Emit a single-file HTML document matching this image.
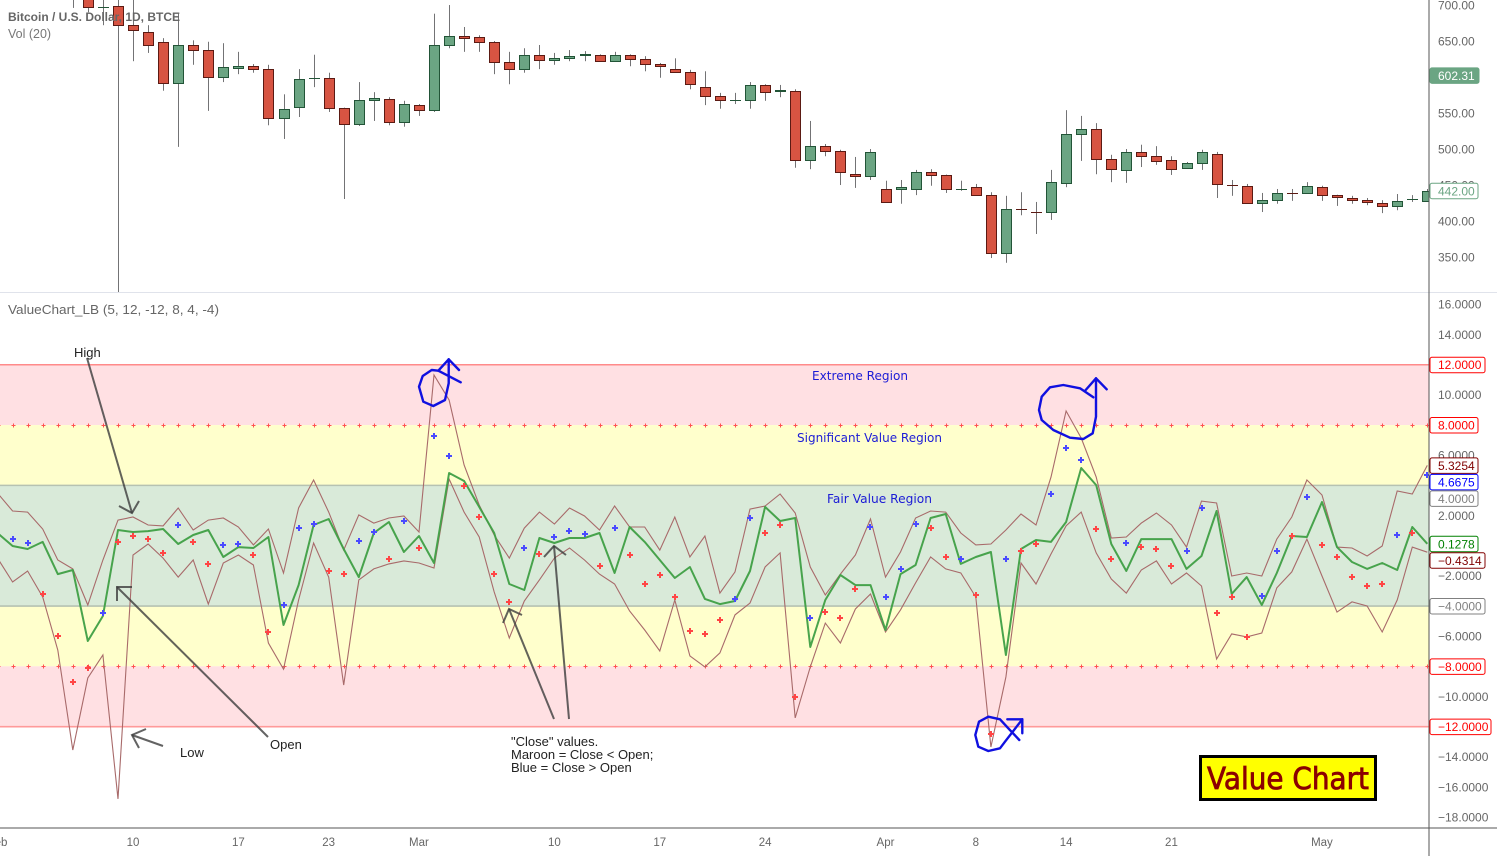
<!DOCTYPE html>
<html lang="en">
<head>
<meta charset="utf-8">
<title>Bitcoin Value Chart</title>
<style>
html,body{margin:0;padding:0;background:#fff;width:1497px;height:856px;overflow:hidden}
svg{display:block;font-family:"Liberation Sans",sans-serif}
.note{font-size:13px;fill:#222}
.region{font-family:"DejaVu Sans",sans-serif;font-size:12px;fill:#1c1cd6}
.hand{fill:none;stroke:#1010e0;stroke-width:2.4;stroke-linejoin:round;stroke-linecap:round}
.ann{fill:none;stroke:#3c3c3c;stroke-opacity:.8;stroke-width:2}
</style>
</head>
<body>
<svg id="chart" xmlns="http://www.w3.org/2000/svg" width="1497" height="856" viewBox="0 0 1497 856">
  <defs>
    <clipPath id="priceClip"><rect x="0" y="0" width="1429" height="292"/></clipPath>
    <clipPath id="indClip"><rect x="0" y="293" width="1429" height="535"/></clipPath>
  </defs>
  <rect width="1497" height="856" fill="#fff"/>
  <g id="regions" clip-path="url(#indClip)"></g>
  <g id="candles" clip-path="url(#priceClip)"></g>
  <g id="indicator" clip-path="url(#indClip)"></g>

  <line x1="0" y1="292.5" x2="1497" y2="292.5" stroke="#e0e3eb" stroke-width="1"/>
  <line x1="0" y1="828" x2="1497" y2="828" stroke="#555" stroke-width="1"/>
  <line x1="1429" y1="0" x2="1429" y2="856" stroke="#555" stroke-width="1"/>

  <g id="axes"></g>

  <text x="8" y="21" font-size="12" font-weight="bold" fill="#666" textLength="172" lengthAdjust="spacingAndGlyphs">Bitcoin / U.S. Dollar, 1D, BTCE</text>
  <text x="8" y="38" font-size="12.5" fill="#777">Vol (20)</text>
  <text x="8" y="314" font-size="12.5" fill="#666" textLength="211" lengthAdjust="spacingAndGlyphs">ValueChart_LB (5, 12, -12, 8, 4, -4)</text>

  <text class="region" x="812" y="380" textLength="96" lengthAdjust="spacingAndGlyphs">Extreme Region</text>
  <text class="region" x="797" y="442" textLength="145" lengthAdjust="spacingAndGlyphs">Significant Value Region</text>
  <text class="region" x="827" y="503" textLength="105" lengthAdjust="spacingAndGlyphs">Fair Value Region</text>

  <g>
    <text class="note" x="74" y="357">High</text>
    <polyline class="ann" points="87,358 132,513"/>
    <polyline class="ann" points="119,506 132,513 139,501"/>
  </g>
  <g>
    <text class="note" x="270" y="749">Open</text>
    <polyline class="ann" points="268,737 117,587"/>
    <polyline class="ann" points="117,601 117,587 132,587"/>
  </g>
  <g>
    <text class="note" x="180" y="757">Low</text>
    <polyline class="ann" points="163,746 132,735"/>
    <polyline class="ann" points="146,729 132,735 139,748"/>
  </g>
  <g>
    <polyline class="ann" points="554,719 509,609"/>
    <polyline class="ann" points="503,623 509,609 522,615"/>
    <polyline class="ann" points="569,719 554,546"/>
    <polyline class="ann" points="544,557 554,546 566,555"/>
    <text class="note" x="511" y="746">"Close" values.</text>
    <text class="note" x="511" y="759">Maroon = Close &lt; Open;</text>
    <text class="note" x="511" y="772">Blue = Close &gt; Open</text>
  </g>

  <g>
    <polyline class="hand" points="460.7,382.3 438.3,370.7 448.7,359.3 459,370"/>
    <polyline class="hand" points="448.7,359.3 448.7,383.3 445,400 433.3,406 423.3,401.7 419,386.7 422.7,376 431.7,370 438.3,370.7"/>
    <polyline class="hand" points="1093.3,397.3 1080,388.3 1063.3,385 1050,387.3 1041.7,396.7 1039,410 1041.7,420 1053.3,430 1070,437.7 1083.3,439 1092.7,433.3 1096,416.7 1096,378.3"/>
    <polyline class="hand" points="1085.7,390 1096,378.3 1106.7,389.3"/>
    <polyline class="hand" points="1022.3,719.3 1005,741.7 1000,748.3 988.3,751 978.3,746.7 975.3,735 979,721.7 988.3,716.7 1000,719.3 1008.3,728.3 1019.3,740"/>
    <polyline class="hand" points="1007.3,719.3 1022.3,719.3 1022.3,733.3"/>
  </g>

  <g>
    <rect x="1200.5" y="756.5" width="175" height="43" fill="#ffff00" stroke="#000" stroke-width="3"/>
    <text x="1207" y="789" font-family="'DejaVu Sans',sans-serif" font-size="30" fill="#8b0000" stroke="#8b0000" stroke-width=".8" textLength="162" lengthAdjust="spacingAndGlyphs">Value Chart</text>
  </g>
</svg>
<script>
// Candles: bar 0 is the first candle drawn in the price pane.
const opens=[740,730,697,699,672,662.5,649,592,644.5,637.5,600,612.5,615,611,543,558,599,599,557,535,568,569.5,537.5,561,554,644.5,657,656,649,621,611,631,624,626,631,631,622,631,625,618,611,607,586,574,568,568,589,581,581,485,504,497,465,462.5,444.5,444.5,444.5,468,464,444.5,447,436,355.6,417.3,412.7,412.5,453,521,528,486,471,496,490,485,474,481,493,450.3,449,425,429,439.3,439,447,436,432,429,425,421,430.4,428];
const highs=[760,740,730,730,730,672,654,688,651,649,647,635,618,617,576,611,631,606,557.5,593,579,572,567,562.5,688,700,669.5,658,650,635,640,644.5,633.5,637.5,636,631.5,635,631.5,629,619.5,626,610,608,578,578,593,590,589,583,539,507,499,489,500,456,457,471,472,464.5,456,451.5,440,435,440,426.5,471,554,546,536,492,500,506,504,490,482,499,496,457,451.5,439,444.5,444.5,454,449,436.5,435,432,429,437.5,436,444.5];
const lows=[696,690,672,301,622,633.5,581,503,617,553,593,604,606,533,514,544.5,586,551.5,430.6,532,539,533,531,546,551.5,640,635,635,604,590,606,611,617,622,622,621.5,621.5,615,608,599,606.5,583,561,556,562.5,556,567,572,474,472,490,450,446,457,426,424,436,449,439,442,435.5,348.6,342,408,382,401.5,447,483.5,465,454,453,475,478,464,473.5,471,432,435,424.5,412.5,424,428,438.5,428,421,424,422,411,415,426.5,427.5];
const closes=[735,697,697.5,672,665,644.5,592,644.5,637.5,600,614,615,611,543,556,597,599.3,557,535,568,571,537.5,562.5,554,644.5,657,654,649,621,611,631,624,626,629,631.3,622,631,625,618,615,607,590,574,568,568.3,589,579,581.5,485,504,497,468,462.5,496,426.5,447,468,464,444.5,445,436,355.6,417,417,412.3,454,521,528,486,472,496,490,483.5,472,481,496,451.5,450,425,429,439,439,449,436,433,429,426.5,421,428,430.8,442];

// ValueChart_LB series: index 0 sits five bars left of candle 0.
const vcHigh=[3.49,2.30,2.23,1.11,-0.95,-1.54,-3.93,-0.95,1.70,1.90,1.37,1.31,2.50,1.04,1.70,1.84,1.24,0.05,1.11,-1.81,2.50,4.36,2.23,-0.29,2.04,1.50,1.84,1.97,0.91,11.32,9.66,5.35,2.70,0.71,-0.82,1.17,2.23,1.44,2.50,1.97,1.04,2.63,1.24,1.24,-0.29,1.90,-0.75,0.64,-3.14,-1.74,2.43,2.63,3.43,2.17,-1.41,-3.27,-1.88,-0.62,1.77,-2.08,-0.42,1.84,2.30,2.23,0.84,0.05,0.11,1.04,2.10,1.37,4.55,8.93,7.14,4.55,0.51,0.58,1.50,2.17,1.37,-0.09,2.96,2.83,-2.01,-1.81,-2.01,0.44,1.90,4.36,3.36,-0.09,-0.15,-0.68,-0.02,3.63,3.43,5.3254];
const vcLow=[-0.82,-2.41,-1.68,-3.40,-6.92,-13.55,-8.77,-7.25,-16.79,-0.62,0.11,-0.82,-2.08,-0.95,-3.87,-1.15,-0.62,-1.28,-6.45,-8.18,-3.60,0.18,-2.08,-9.24,-2.27,-1.54,-1.21,-1.01,-1.15,-1.48,4.42,2.23,0.58,-3.07,-6.12,-3.67,-2.27,-0.82,-0.15,-0.95,-1.88,-2.54,-4.33,-5.59,-6.98,-3.60,-7.31,-8.04,-7.11,-4.59,-3.80,-1.41,-0.48,-11.42,-8.04,-5.13,-6.45,-4.20,-3.20,-5.72,-4.26,-2.47,-0.75,-1.54,-1.81,-3.40,-13.35,-8.71,-1.15,-2.54,-0.55,1.31,2.23,-0.48,-2.21,-3.14,-1.61,-1.01,-2.54,-1.81,-2.67,-7.51,-5.85,-6.05,-5.79,-2.80,-1.74,0.44,-2.01,-4.40,-3.73,-4.00,-5.72,-3.60,-0.09,-0.4314];
const vcOpen=[0.84,-0.02,-0.22,0.25,-1.88,-1.61,-6.32,-4.66,1.04,0.91,0.97,1.11,0.11,0.71,1.04,-0.75,-0.09,-0.15,0.58,-5.26,-2.61,1.37,1.77,-0.22,-2.08,0.84,1.57,-0.42,0.64,-1.15,4.82,4.29,2.57,0.84,-2.54,-2.94,0.51,0.18,0.51,0.51,0.84,-1.81,1.24,0.25,-0.95,-2.14,-1.41,-3.53,-3.87,-3.67,-1.68,2.57,1.64,1.84,-6.72,-3.60,-1.94,-2.61,-2.61,-5.59,-1.88,-1.28,1.84,2.10,-1.21,-0.75,-0.42,-7.25,-0.22,0.38,0.25,1.57,5.15,4.02,0.11,-1.68,0.44,0.44,0.44,-1.54,-0.68,2.30,-3.20,-2.08,-3.93,-1.81,0.64,0.58,2.90,-0.09,-1.08,-1.54,-1.15,-1.61,1.24,0.1278];
const vcClose=[null,0.44,0.18,-3.20,-5.99,-9.04,-8.11,-4.46,0.25,0.64,0.44,-0.48,1.37,0.25,-1.21,0.05,0.11,-0.62,-5.72,-3.93,1.17,1.44,-1.68,-1.88,0.31,0.91,-0.88,1.64,-0.15,7.27,5.95,3.96,1.90,-1.88,-3.73,-0.15,-0.55,0.58,0.97,0.78,-1.35,1.17,-0.62,-2.54,-1.94,-3.40,-5.66,-5.85,-4.93,-3.53,1.84,0.84,1.37,-10.03,-4.79,-4.40,-4.79,-2.87,1.24,-3.40,-1.54,1.44,1.17,-0.75,-0.88,-3.27,-12.48,-0.88,-0.35,0.11,3.43,6.48,5.68,1.11,-0.88,0.18,-0.09,-0.22,-1.35,-0.35,2.50,-4.46,-3.40,-6.05,-3.34,-0.35,0.64,3.23,0.05,-0.75,-2.08,-2.67,-2.54,0.71,0.84,4.6675];

// Axis data
const priceTicks=[700,650,600,550,500,450,400,350];
const valueTicks=[16,14,12,10,8,6,4,2,0,-2,-4,-6,-8,-10,-12,-14,-16,-18];
const timeLabels=['Feb','10','17','23','Mar','10','17','24','Apr','8','14','21','May'];
const timeBars=[-5,4,11,17,23,32,39,46,54,60,66,73,83];
const lastClosePrice=602.31;
const lastPrice=442.00;

// Axis functions
const xBar=i=>72.8+15.05*i;
const yPrice=p=>(707-p)/1.389;
const yValue=v=>545.7-15.08*v;
const xInd=k=>xBar(k-5);

const NS='http://www.w3.org/2000/svg';
function make(parent,tag,attrs,text){
  const el=document.createElementNS(NS,tag);
  for(const k in attrs)el.setAttribute(k,attrs[k]);
  if(text!==undefined)el.textContent=text;
  parent.appendChild(el);
  return el;
}
const fmt=v=>v.toFixed(4).replace('-','\u2212');

// Region bands and level lines
const regions=document.getElementById('regions');
const bands=[[12,8,'#ffe0e3'],[8,4,'#ffffcc'],[4,-4,'#d9ead9'],[-4,-8,'#ffffcc'],[-8,-12,'#ffe0e3']];
bands.forEach(b=>{
  const r=make(regions,'rect',{x:0,y:yValue(b[0]),width:1429,height:yValue(b[1])-yValue(b[0]),fill:b[2]});
  
  
});
const levelLines=[[12,'#ff8a8a'],[4,'#b6c2b2'],[-4,'#b6c2b2'],[-12,'#ff9a9a']];
levelLines.forEach(l=>{
  const ln=make(regions,'line',{x1:0,x2:1429,y1:yValue(l[0]),y2:yValue(l[0]),stroke:l[1],'stroke-width':1.6});
  
  
});

// Candles
const candles=document.getElementById('candles');
opens.forEach((o,i)=>{
  const c=closes[i],up=c>=o;
  const px=Math.round(xBar(i));
  const g=make(candles,'g',{});
  
  
  const yh=yPrice(highs[i]),yl=yPrice(lows[i]);
  make(g,'rect',{x:px,y:yh,width:1,height:yl-yh,fill:'#737375'});
  const t=Math.round(yPrice(Math.max(o,c))),b=Math.round(yPrice(Math.min(o,c)));
  const border=up?'#225437':'#5b1a13',fill=up?'#6ba583':'#d75442';
  if(b-t<1){
    make(g,'rect',{x:px-5,y:t,width:11,height:1,fill:border});
  }else{
    make(g,'rect',{x:px-4.5,y:t+.5,width:10,height:b-t,fill:fill,stroke:border,'stroke-width':1});
  }
});

// Indicator
const ind=document.getElementById('indicator');
[8,-8].forEach(level=>{
  vcHigh.forEach((_,k)=>{
    const x=Math.round(xInd(k)),y=Math.round(yValue(level));
    const d=make(ind,'path',{d:`M${x-1.5} ${y+.5}H${x+2.5}M${x+.5} ${y-1.5}V${y+2.5}`,stroke:'#ff5252','stroke-width':1,fill:'none'});
    
    
  });
});
function pts(arr){return arr.map((v,k)=>xInd(k).toFixed(1)+','+yValue(v).toFixed(1)).join(' ');}
const hiLine=make(ind,'polyline',{points:pts(vcHigh),fill:'none',stroke:'#a86a6a','stroke-width':1.1});


const loLine=make(ind,'polyline',{points:pts(vcLow),fill:'none',stroke:'#a86a6a','stroke-width':1.1});


const opLine=make(ind,'polyline',{points:pts(vcOpen),fill:'none',stroke:'#3f9f45','stroke-width':2,'stroke-opacity':.95,'stroke-linejoin':'round'});


vcClose.forEach((v,k)=>{
  if(v===null)return;
  const x=Math.round(xInd(k)),y=Math.round(yValue(v));
  const col=v>vcOpen[k]?'#4a4aff':'#ff4545';
  const m=make(ind,'path',{d:`M${x-3} ${y}H${x+3}M${x} ${y-3}V${y+3}`,stroke:col,'stroke-width':2,fill:'none'});
  
  
});

// Axis labels
const axes=document.getElementById('axes');
priceTicks.forEach(p=>{
  const t=make(axes,'text',{x:1438,y:yPrice(p)+4.3,'font-size':12,fill:'#666'},p.toFixed(2));
  
  
});
valueTicks.forEach(v=>{
  const t=make(axes,'text',{x:1438,y:yValue(v)+4.3,'font-size':12,fill:'#666'},fmt(v));
  
  
});
timeLabels.forEach((s,i)=>{
  const t=make(axes,'text',{x:xBar(timeBars[i]),y:846,'font-size':11.5,fill:'#666','text-anchor':'middle'},s);
  
  
});

// Axis tags
function tag(y,label,width,stroke,fill,color){
  const g=make(axes,'g',{});
  make(g,'rect',{x:1430,y:y-7.5,width:width,height:15.5,rx:2,fill:fill,stroke:stroke,'stroke-width':1});
  make(g,'text',{x:1438,y:y+4.5,'font-size':12,fill:color},label);
  return g;
}
const tagClose=tag(yPrice(lastClosePrice),lastClosePrice.toFixed(2),49,'#6ba583','#6ba583','#fff');


const tagPrice=tag(yPrice(lastPrice),lastPrice.toFixed(2),48,'#6ba583','#fff','#6ba583');



// Indicator tags stack downward when they would overlap.
const levelValues=[12,8,4,-4,-8,-12];
const levelStroke=['#ff0000','#ff0000','#808080','#808080','#ff0000','#ff0000'];
const levelWidths=[55,48,48,55,55,61];
const tagSpecs=levelValues.map((v,i)=>({v:v,w:levelWidths[i],c:levelStroke[i],name:'level-tag'}));
tagSpecs.push({v:vcHigh[vcHigh.length-1],w:48,c:'#800000',name:'high-value-tag'});
tagSpecs.push({v:vcClose[vcClose.length-1],w:48,c:'#0000ff',name:'close-value-tag'});
tagSpecs.push({v:vcOpen[vcOpen.length-1],w:48,c:'#008000',name:'open-value-tag'});
tagSpecs.push({v:vcLow[vcLow.length-1],w:55,c:'#800000',name:'low-value-tag'});
tagSpecs.sort((a,b)=>b.v-a.v);
let prevTagY=-100;
tagSpecs.forEach(s=>{
  const y=Math.max(yValue(s.v),prevTagY+16.5);
  prevTagY=y;
  const g=tag(y,fmt(s.v),s.w,s.c,'#fff',s.c);
  
  
});
</script>
</body>
</html>
